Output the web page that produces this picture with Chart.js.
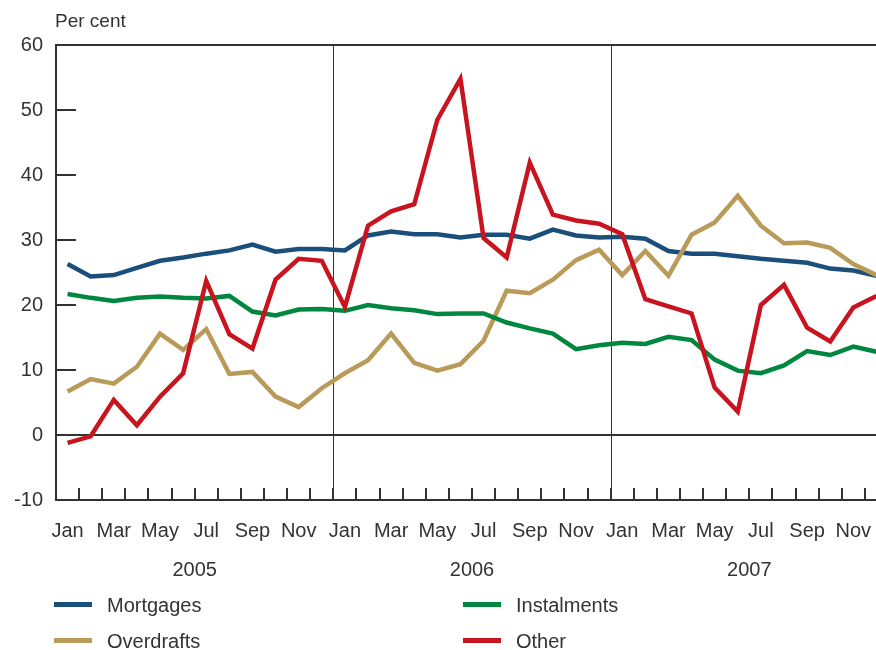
<!DOCTYPE html>
<html>
<head>
<meta charset="utf-8">
<script src="https://cdn.jsdelivr.net/npm/chart.js@4"></script>
<style>
  html, body { margin: 0; padding: 0; overflow: hidden; background: #fff; }
  body { width: 876px; height: 650px; position: relative; font-family: "Liberation Sans", Arial, sans-serif; color: #333; }
  #wrap { position: absolute; left: 0; top: 0; width: 900px; height: 650px; }
  .unit { position: absolute; left: 55px; top: 10px; font-size: 19px; }
  .leg { position: absolute; font-size: 20px; line-height: 24px; }
  .leg span { display: inline-block; width: 38px; height: 5px; vertical-align: middle; margin-right: 15px; position: relative; top: -2px; }
</style>
</head>
<body>
<div id="wrap"><canvas id="chart" width="900" height="650"></canvas></div>
<div class="unit">Per cent</div>
<div class="leg" style="left:54px; top:593px;"><span style="background:#1b4f7b"></span>Mortgages</div>
<div class="leg" style="left:463px; top:593px;"><span style="background:#00873f"></span>Instalments</div>
<div class="leg" style="left:54px; top:629px;"><span style="background:#b99a58"></span>Overdrafts</div>
<div class="leg" style="left:463px; top:629px;"><span style="background:#c8141e"></span>Other</div>
<script>
const monthNames = ["Jan", "Feb", "Mar", "Apr", "May", "Jun", "Jul", "Aug", "Sep", "Oct", "Nov", "Dec"];
const years = ["2005", "2006", "2007"];
const months = [].concat(monthNames, monthNames, monthNames);

const mortgages = [26.3, 24.4, 24.6, 25.7, 26.8, 27.3, 27.9, 28.4, 29.3, 28.2, 28.6, 28.6,
  28.4, 30.7, 31.3, 30.9, 30.9, 30.4, 30.8, 30.8, 30.2, 31.6, 30.7, 30.4,
  30.5, 30.2, 28.3, 27.9, 27.9, 27.5, 27.1, 26.8, 26.5, 25.6, 25.3, 24.5];
const overdrafts = [6.7, 8.6, 7.9, 10.5, 15.6, 13.1, 16.3, 9.4, 9.7, 5.9, 4.3, 7.2,
  9.5, 11.5, 15.6, 11.1, 9.9, 10.9, 14.5, 22.2, 21.8, 23.9, 26.9, 28.5,
  24.6, 28.3, 24.5, 30.8, 32.7, 36.8, 32.2, 29.5, 29.6, 28.8, 26.3, 24.6];
const instalments = [21.7, 21.1, 20.6, 21.1, 21.3, 21.1, 21.0, 21.4, 19.0, 18.4, 19.3, 19.4,
  19.1, 20.0, 19.5, 19.2, 18.6, 18.7, 18.7, 17.3, 16.4, 15.6, 13.2, 13.8,
  14.2, 14.0, 15.1, 14.6, 11.6, 9.9, 9.5, 10.7, 12.9, 12.3, 13.6, 12.8];
const other = [-1.2, -0.2, 5.4, 1.5, 5.9, 9.5, 23.7, 15.5, 13.3, 23.9, 27.1, 26.8,
  19.7, 32.2, 34.4, 35.5, 48.5, 54.8, 30.3, 27.3, 41.9, 33.9, 33.0, 32.5,
  30.9, 20.9, 19.8, 18.7, 7.3, 3.6, 20.0, 23.1, 16.5, 14.4, 19.6, 21.4];

const frameColor = "#333";
const fontSpec = { family: "'Liberation Sans', Arial, sans-serif", size: 20 };

// frame, inner tick marks and year separators
const framePlugin = {
  id: "frame",
  beforeDatasetsDraw(chart) {
    const { ctx, chartArea: a, scales } = chart;
    const x = scales.x, y = scales.y;
    ctx.save();
    ctx.strokeStyle = frameColor;
    // year separators
    ctx.lineWidth = 1;
    for (let i = 12; i < months.length; i += 12) {
      const px = Math.round((x.getPixelForValue(i - 1) + x.getPixelForValue(i)) / 2) + 0.5;
      ctx.beginPath(); ctx.moveTo(px, a.top); ctx.lineTo(px, a.bottom); ctx.stroke();
    }
    ctx.lineWidth = 2;
    // month ticks pointing up from the bottom
    for (let i = 0; i < months.length - 1; i++) {
      const px = Math.round((x.getPixelForValue(i) + x.getPixelForValue(i + 1)) / 2);
      ctx.beginPath(); ctx.moveTo(px, a.bottom); ctx.lineTo(px, a.bottom - 12); ctx.stroke();
    }
    // value ticks pointing right from the left edge
    y.ticks.forEach(t => {
      if (t.value <= y.min) return;
      const py = Math.round(y.getPixelForValue(t.value));
      ctx.beginPath(); ctx.moveTo(a.left, py); ctx.lineTo(a.left + 20, py); ctx.stroke();
    });
    // top border
    ctx.beginPath(); ctx.moveTo(a.left, a.top); ctx.lineTo(a.right, a.top); ctx.stroke();
    ctx.restore();
  }
};

new Chart(document.getElementById("chart"), {
  type: "line",
  data: {
    labels: months,
    datasets: [
      { label: "Mortgages", data: mortgages, borderColor: "#1b4f7b", order: 3 },
      { label: "Overdrafts", data: overdrafts, borderColor: "#b99a58", order: 2 },
      { label: "Instalments", data: instalments, borderColor: "#00873f", order: 1 },
      { label: "Other", data: other, borderColor: "#c8141e", order: 0 },
    ],
  },
  options: {
    responsive: false,
    animation: false,
    layout: { padding: { top: 45, right: 12, left: 0, bottom: 0 } },
    elements: {
      line: { borderWidth: 4.5, tension: 0, borderJoinStyle: "miter", fill: false },
      point: { radius: 0 },
    },
    plugins: { legend: { display: false }, tooltip: { enabled: false } },
    scales: {
      x: {
        type: "category",
        offset: true,
        weight: 0,
        grid: { display: false },
        border: { display: true, color: frameColor, width: 2 },
        ticks: {
          autoSkip: false,
          maxRotation: 0,
          padding: 11,
          color: "#333",
          font: fontSpec,
          callback: (v, i) => (i % 2 === 0 ? months[i] : ""),
        },
        afterFit: s => { s.height = 50; },
      },
      years: {
        type: "category",
        labels: years,
        position: "bottom",
        offset: true,
        weight: 1,
        grid: { display: false },
        border: { display: false },
        ticks: { padding: 0, color: "#333", font: fontSpec, maxRotation: 0 },
        afterFit: s => { s.height = 100; },
      },
      y: {
        min: -10,
        max: 60,
        ticks: { stepSize: 10, padding: 13, color: "#333", font: fontSpec },
        grid: {
          drawTicks: false,
          color: c => (c.tick && c.tick.value === 0 ? frameColor : "transparent"),
          lineWidth: 2,
        },
        border: { display: true, color: frameColor, width: 2 },
        afterFit: s => { s.width = 56; },
      },
    },
  },
  plugins: [framePlugin],
});
</script>
</body>
</html>
